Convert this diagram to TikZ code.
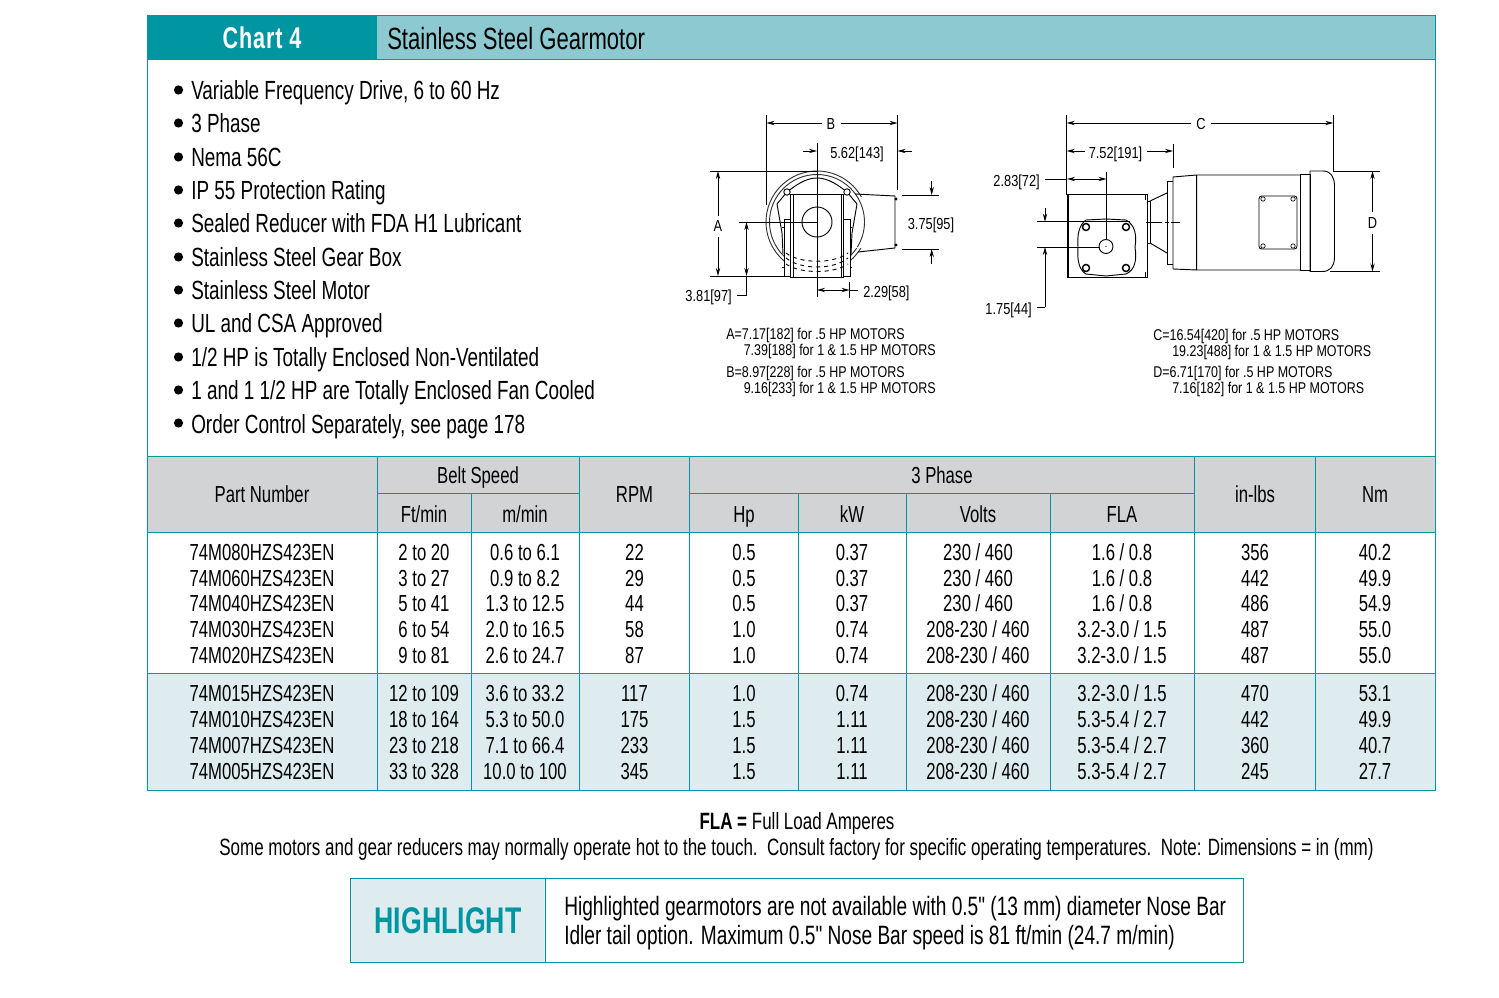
\documentclass[tikz,border=0pt]{standalone}
\usepackage{fontspec}
\setmainfont[FakeStretch=0.72]{Liberation Sans}
\newfontfamily\dimfont[FakeStretch=0.8]{Liberation Sans}
\newfontfamily\hlfont[FakeStretch=0.72]{Liberation Sans}
\newfontfamily\titlefont[FakeStretch=0.72,LetterSpace=3]{Liberation Sans}
\usetikzlibrary{arrows.meta}
\definecolor{tealdark}{RGB}{0,150,161}
\definecolor{teallight}{RGB}{141,201,209}
\definecolor{rowpale}{RGB}{222,236,240}
\definecolor{headgray}{RGB}{209,211,212}
\tikzset{
	rule/.style={color=tealdark, line width=0.6pt},
	txt/.style={inner sep=0pt, text height=15pt, text depth=1.5pt, font=\hlfont\fontsize{19.9}{22}\selectfont},
	cell/.style={inner sep=0pt, text height=14pt, text depth=2pt, font=\fontsize{17.4}{20}\selectfont},
	bullet/.style={inner sep=0pt, anchor=west, text height=15pt, text depth=1.5pt, font=\fontsize{19.7}{22}\selectfont},
	dim/.style={inner sep=0pt, text height=9pt, text depth=1pt, font=\dimfont\fontsize{12}{14}\selectfont},
	note/.style={inner sep=0pt, anchor=west, text height=9pt, text depth=1pt, font=\dimfont\fontsize{11.7}{14}\selectfont},
	thin line/.style={line width=0.55pt},
	part/.style={line width=0.7pt},
	arr/.style={line width=0.55pt, -{Stealth[length=6pt,width=3.2pt]}},
}
\begin{document}
\begin{tikzpicture}[x=0.75pt,y=0.75pt,yscale=-1,xscale=1]
	\useasboundingbox (0,0) rectangle (1499,998);
	% header band
	\fill [tealdark] (147,15) rectangle (377,59);
	\fill [teallight] (377,15) rectangle (1435,59);
	\draw [rule] (147,59) -- (147,456) (1435,15) -- (1435,456) (147,15) -- (1435,15) (147,59) -- (1435,59);
	\node [inner sep=0pt, text=white, font=\titlefont\bfseries\fontsize{22.5}{26}\selectfont] (title) at (262,37.5) {Chart 4};
	\node [inner sep=0pt, anchor=west, font=\fontsize{23}{26}\selectfont] (subtitle) at (387,38.5) {Stainless Steel Gearmotor};

	% bullets
	\foreach \n/\y/\t in {1/91/{Variable Frequency Drive, 6 to 60 Hz},2/124/3 Phase,3/158/Nema 56C,4/191/IP 55 Protection Rating,5/224/Sealed Reducer with FDA H1 Lubricant,6/258/Stainless Steel Gear Box,7/291/Stainless Steel Motor,8/324/UL and CSA Approved,9/358/{1/2 HP is Totally Enclosed Non-Ventilated},10/391/{1 and 1 1/2 HP are Totally Enclosed Fan Cooled},11/424/{Order Control Separately, see page 178}}{
		\fill (178.5,\y-1) circle (4.6);
		\node [bullet] (b\n) at (191,\y) {\t};
	}

	% end view
	\draw [part, color=black!80] (817,222) circle (51) (817,222) circle (47.5);
	\fill [white] (790,194) rectangle (843,277);
	\fill [white] (855,197) rectangle (895,248);
	\draw [part] (855,194) -- (895,196) -- (895,248) -- (858,252);
	\draw [part, color=black!80] (817,222) ++(-32:47.5) arc (-32:32:47.5);
	\draw [part] (787,192) .. controls (795,186) and (805,178) .. (817,178) .. controls (829,178) and (839,186) .. (847,192);
	\draw [part] (787,192) -- (777,204) -- (782,233) -- (783,254) (847,192) -- (857,204) -- (852,233) -- (851,254);
	\draw [part] (790.5,194) rectangle (843.5,277);
	\draw [part] (793,194) -- (793,277) (841,194) -- (841,277);
	\draw [part, fill=white] (784,219) rectangle (790.5,276);
	\draw [part, fill=white] (843.5,219) rectangle (850,276);
	\draw [part, fill=white] (787,192) circle (3.2) (847,192) circle (3.2);
	\draw [part] (817,222) circle (15);
	\draw [part, dashed] (786,253) .. controls (800,264) and (834,264) .. (848,253);
	\draw [part, dashed] (786,258) .. controls (800,270) and (834,270) .. (848,258);
	\draw [part, dashed] (786,264) .. controls (800,274) and (834,274) .. (848,264);
	\draw [part] (782,227) -- (784,227) (782,267) -- (784,267) (850,227) -- (852,227) (850,267) -- (852,267);
	\fill (896,199) circle (1.6) (896,245) circle (1.6);

	% end view dimensions
	\draw [thin line] (766.5,115) -- (766.5,205) (897.5,115) -- (897.5,190);
	\draw [thin line] (817,143) -- (817,297);
	\draw [thin line] (710,171) -- (817,171) (710,276) -- (785,276);
	\draw [thin line] (739,222) -- (817,222);
	\draw [thin line] (902,195) -- (939,195) (902,249) -- (939,249);
	\draw [thin line] (849.5,282) -- (849.5,298);
	\node [dim] (dimB) at (831,124.5) {B};
	\draw [arr] (dimB.west) ++(-4,-1.5) -- (766.5,123);
	\draw [arr] (dimB.east) ++(5,-1.5) -- (897.5,123);
	\node [dim] (dim562) at (857,153) {5.62[143]};
	\draw [arr] (803,151) -- (817,151);
	\draw [arr] (912,151) -- (897.5,151);
	\node [dim] (dimA) at (718,226.5) {A};
	\draw [arr] (dimA.north) ++(0,-4) -- (718,171);
	\draw [arr] (dimA.south) ++(0,4) -- (718,276);
	\node [dim, anchor=east] (dim381) at (732,296) {3.81[97]};
	\draw [thin line] (737,295) -- (746.5,295) -- (746.5,276);
	\draw [arr] (746.5,250) -- (746.5,222);
	\draw [arr] (746.5,250) -- (746.5,276);
	\node [dim, anchor=west] (dim229) at (863,292) {2.29[58]};
	\draw [arr] (833,290) -- (817,290);
	\draw [arr] (833,290) -- (849.5,290);
	\draw [thin line] (849.5,290) -- (858,290);
	\node [dim] (dim375) at (931,224) {3.75[95]};
	\draw [arr] (931.7,181) -- (931.7,195);
	\draw [arr] (931.7,264) -- (931.7,249);

	% side view
	\draw [part] (1067,194.5) rectangle (1147,277);
	\draw [part] (1068.5,194.5) -- (1068.5,277) (1145,194.5) -- (1145,200) (1145,272) -- (1145,277);
	\draw [part] (1147.5,201) -- (1150,201) -- (1150,243) -- (1147.5,243);
	\draw [part] (1150,201) -- (1167,193) (1150,243) -- (1167,253);
	\draw [part] (1167,181) -- (1173,181) (1167,264) -- (1173,264) (1167,181) -- (1167,264);
	\draw [part] (1173,177) -- (1196.7,175) -- (1300,175) (1173,269) -- (1196.7,270) -- (1300,270) (1173,177) -- (1173,269) (1196.7,175) -- (1196.7,270);
	\draw [part] (1300,174) rectangle (1310,270.5);
	\draw [part] (1310,171) -- (1323,171) .. controls (1331,171) and (1334,177) .. (1334.5,185) -- (1334.5,258) .. controls (1334,267) and (1330,271.5) .. (1322,271.5) -- (1310,271.5) -- cycle;
	\draw [part, rounded corners=2pt] (1259,196) rectangle (1297,249);
	\foreach \x/\y in {1263/199,1293/199,1263/246,1293/246}{
		\draw [line width=0.5pt, fill=white] (\x,\y) circle (2.2);
	}
	\draw [part] (1086,220) -- (1106,219) -- (1126,220) .. controls (1135,225) and (1137,235) .. (1135,247) .. controls (1137,260) and (1135,270) .. (1126,274) -- (1106,276) -- (1086,274) .. controls (1079,270) and (1077,260) .. (1078,247) .. controls (1077,235) and (1079,225) .. (1086,220) -- cycle;
	\foreach \x/\y in {1086/227,1126/227,1086/268,1126/268}{
		\draw [line width=1.1pt, fill=white] (\x,\y) circle (3.5);
	}
	\draw [part, fill=white] (1106,246.5) circle (7);
	\fill (1106,246.5) circle (0.7);
	\draw [thin line, dash pattern=on 12pt off 2pt on 3pt off 2pt] (1146,222) -- (1180,222);

	% side view dimensions
	\draw [thin line] (1066.7,115) -- (1066.7,195) (1333.3,115) -- (1333.3,171);
	\draw [thin line] (1173,144) -- (1173,168);
	\draw [thin line] (1106.5,172) -- (1106.5,240);
	\draw [thin line] (1037,221.7) -- (1130,221.7) (1037,247) -- (1100,247);
	\draw [thin line] (1333,171) -- (1380,171) (1330,271.5) -- (1380,271.5);
	\node [dim] (dimC) at (1201,124.5) {C};
	\draw [arr] (dimC.west) ++(-5,-1.5) -- (1066.7,123);
	\draw [arr] (dimC.east) ++(5,-1.5) -- (1333.3,123);
	\node [dim] (dim752) at (1115.5,153) {7.52[191]};
	\draw [arr] (dim752.west) ++(-4,-2) -- (1066.7,151);
	\draw [arr] (dim752.east) ++(5,-2) -- (1173,151);
	\node [dim, anchor=east] (dim283) at (1040,181) {2.83[72]};
	\draw [thin line] (1045,179) -- (1067,179);
	\draw [arr] (1086,179) -- (1067,179);
	\draw [arr] (1086,179) -- (1106.5,179);
	\node [dim, anchor=east] (dim175) at (1032,309) {1.75[44]};
	\draw [arr] (1045,208) -- (1045,221.7);
	\draw [thin line] (1037,307) -- (1045,307);
	\draw [arr] (1045,307) -- (1045,247);
	\node [dim] (dimD) at (1372.5,223) {D};
	\draw [arr] (dimD.north) ++(0,-4) -- (1372.5,171);
	\draw [arr] (dimD.south) ++(0,4) -- (1372.5,271.5);

	% dimension notes
	\node [note] (noteA) at (726,334) {A=7.17[182] for .5 HP MOTORS};
	\node [note] (noteAb) at (743.5,350) {7.39[188] for 1 \& 1.5 HP MOTORS};
	\node [note] (noteB) at (726,372) {B=8.97[228] for .5 HP MOTORS};
	\node [note] (noteBb) at (743.5,388) {9.16[233] for 1 \& 1.5 HP MOTORS};
	\node [note] (noteC) at (1153,335) {C=16.54[420] for .5 HP MOTORS};
	\node [note] (noteCb) at (1172,351) {19.23[488] for 1 \& 1.5 HP MOTORS};
	\node [note] (noteD) at (1153,372) {D=6.71[170] for .5 HP MOTORS};
	\node [note] (noteDb) at (1172,388) {7.16[182] for 1 \& 1.5 HP MOTORS};

	% table fills
	\fill [headgray] (147,456) rectangle (1435,532);
	\fill [rowpale] (147,673) rectangle (1435,790);

	% table head
	\node [cell] (hpart) at (262,494) {Part Number};
	\node [cell] (hbelt) at (478,475) {Belt Speed};
	\node [cell] (hft) at (424,514) {Ft/min};
	\node [cell] (hm) at (525,514) {m/min};
	\node [cell] (hrpm) at (634.5,494) {RPM};
	\node [cell] (hphase) at (942,475) {3 Phase};
	\node [cell] (hhp) at (744,514) {Hp};
	\node [cell] (hkw) at (852,514) {kW};
	\node [cell] (hvolts) at (978,514) {Volts};
	\node [cell] (hfla) at (1122,514) {FLA};
	\node [cell] (hlbs) at (1255,494) {in-lbs};
	\node [cell] (hnm) at (1375,494) {Nm};

	% table rows
	\foreach \n/\y/\pn/\ft/\mm/\rpm/\hp/\kw/\vv/\fla/\lbs/\nm in {
		1/552/74M080HZS423EN/2 to 20/0.6 to 6.1/22/0.5/0.37/{230 / 460}/{1.6 / 0.8}/356/40.2,
		2/578/74M060HZS423EN/3 to 27/0.9 to 8.2/29/0.5/0.37/{230 / 460}/{1.6 / 0.8}/442/49.9,
		3/603/74M040HZS423EN/5 to 41/1.3 to 12.5/44/0.5/0.37/{230 / 460}/{1.6 / 0.8}/486/54.9,
		4/629/74M030HZS423EN/6 to 54/2.0 to 16.5/58/1.0/0.74/{208-230 / 460}/{3.2-3.0 / 1.5}/487/55.0,
		5/655/74M020HZS423EN/9 to 81/2.6 to 24.7/87/1.0/0.74/{208-230 / 460}/{3.2-3.0 / 1.5}/487/55.0,
		6/693/74M015HZS423EN/12 to 109/3.6 to 33.2/117/1.0/0.74/{208-230 / 460}/{3.2-3.0 / 1.5}/470/53.1,
		7/719/74M010HZS423EN/18 to 164/5.3 to 50.0/175/1.5/1.11/{208-230 / 460}/{5.3-5.4 / 2.7}/442/49.9,
		8/745/74M007HZS423EN/23 to 218/7.1 to 66.4/233/1.5/1.11/{208-230 / 460}/{5.3-5.4 / 2.7}/360/40.7,
		9/771/74M005HZS423EN/33 to 328/10.0 to 100/345/1.5/1.11/{208-230 / 460}/{5.3-5.4 / 2.7}/245/27.7}{
		\node [cell] (pn\n) at (262,\y) {\pn};
		\node [cell] (ft\n) at (424,\y) {\ft};
		\node [cell] (mm\n) at (525,\y) {\mm};
		\node [cell] (rpm\n) at (634.5,\y) {\rpm};
		\node [cell] (hp\n) at (744,\y) {\hp};
		\node [cell] (kw\n) at (852,\y) {\kw};
		\node [cell] (vv\n) at (978,\y) {\vv};
		\node [cell] (fla\n) at (1122,\y) {\fla};
		\node [cell] (lbs\n) at (1255,\y) {\lbs};
		\node [cell] (nm\n) at (1375,\y) {\nm};
	}

	% table rules
	\draw [rule] (147,456) rectangle (1435,790);
	\draw [rule] (147,532) -- (1435,532) (147,673) -- (1435,673);
	\draw [rule] (377,493) -- (579.5,493) (689.5,493) -- (1194,493);
	\foreach \x in {377,579.5,689.5,1194,1315}{
		\draw [rule] (\x,456) -- (\x,790);
	}
	\foreach \x in {471.5,798,906,1050}{
		\draw [rule] (\x,493) -- (\x,790);
	}

	% footnotes
	\node [inner sep=0pt, text height=14pt, text depth=2pt] (fla) at (797,821) {\fontsize{17.7}{20}\selectfont\textbf{FLA =} Full Load Amperes};
	\node [cell, font=\fontsize{17.7}{20}\selectfont] (hot) at (796.5,847) {Some motors and gear reducers may normally operate hot to the touch.\ \ Consult factory for specific operating temperatures.\ \ Note: Dimensions = in (mm)};

	% highlight box
	\fill [rowpale] (350,878) rectangle (545,962);
	\draw [rule] (350,878) rectangle (1243,962) (545,878) -- (545,962);
	\node [inner sep=0pt, text=tealdark, font=\bfseries\fontsize{27.8}{30}\selectfont] (hl) at (448,921) {HIGHLIGHT};
	\node [txt, anchor=west] (hla) at (564,906) {Highlighted gearmotors are not available with 0.5" (13 mm) diameter Nose Bar};
	\node [txt, anchor=west] (hlb) at (564,935) {Idler tail option. Maximum 0.5" Nose Bar speed is 81 ft/min (24.7 m/min)};
\end{tikzpicture}
\end{document}
